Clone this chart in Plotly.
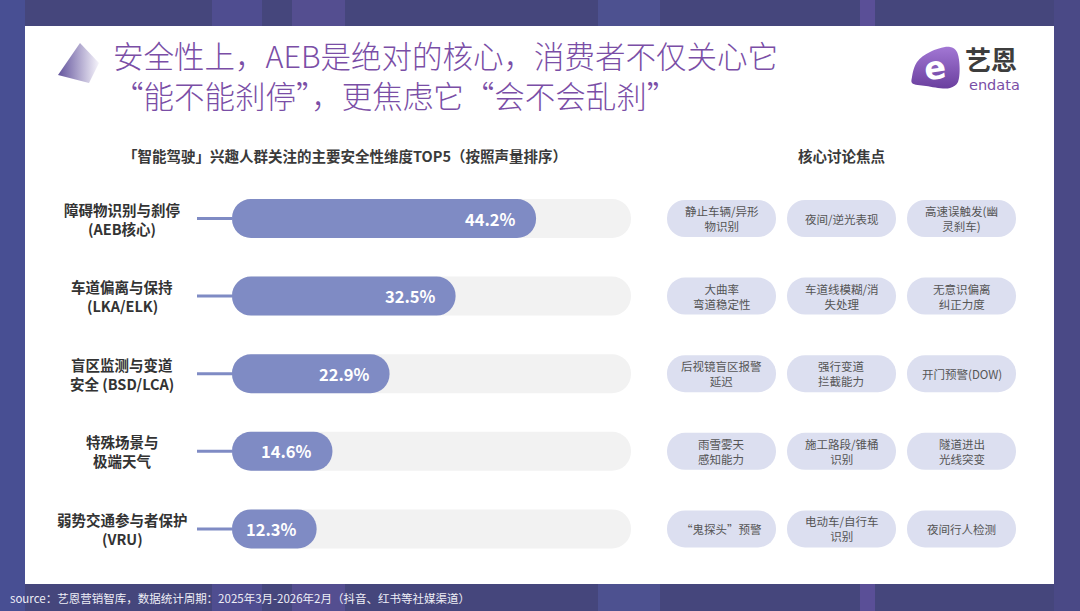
import plotly.graph_objects as go

W, H = 1080, 611
FONT = "Noto Sans CJK SC"

# ---------------- data ----------------
title_line1 = "安全性上，AEB是绝对的核心，消费者不仅关心它"
title_line2 = "“能不能刹停”，更焦虑它“会不会乱刹”"
subtitle_left = "「智能驾驶」兴趣人群关注的主要安全性维度TOP5（按照声量排序）"
subtitle_right = "核心讨论焦点"
source_note = "source：艺恩营销智库，数据统计周期：2025年3月-2026年2月（抖音、红书等社媒渠道）"

categories = [
    "障碍物识别与刹停<br>(AEB核心)",
    "车道偏离与保持<br>(LKA/ELK)",
    "盲区监测与变道<br>安全 (BSD/LCA)",
    "特殊场景与<br>极端天气",
    "弱势交通参与者保护<br>(VRU)",
]
shares = [44.2, 32.5, 22.9, 14.6, 12.3]

focus_row1 = ["静止车辆/异形<br>物识别", "夜间/逆光表现", "高速误触发(幽<br>灵刹车)"]
focus_row2 = ["大曲率<br>弯道稳定性", "车道线模糊/消<br>失处理", "无意识偏离<br>纠正力度"]
focus_row3 = ["后视镜盲区报警<br>延迟", "强行变道<br>拦截能力", "开门预警(DOW)"]
focus_row4 = ["雨雪雾天<br>感知能力", "施工路段/锥桶<br>识别", "隧道进出<br>光线突变"]
focus_row5 = ["“鬼探头”预警", "电动车/自行车<br>识别", "夜间行人检测"]
focus_points = [focus_row1, focus_row2, focus_row3, focus_row4, focus_row5]

# ---------------- styling ----------------
BAR_COLOR = "#7f8bc4"
TRACK_COLOR = "#f2f2f2"
TAG_COLOR = "#dcdff0"
TITLE_COLOR = "#7a4ea6"
TEXT_DARK = "#333333"
SCALE_MAX = 58


def px(x):
    return x / W


def py(y):
    return 1 - y / H


n = len(categories)
rows = list(range(n))
row_gap = 77.6
row_top = 218.5 - row_gap / 2
row_bot = 218.5 + row_gap * (n - 1) + row_gap / 2
BAR_T = 39 / row_gap
TAG_T = 37 / row_gap
units_per_px = SCALE_MAX / 399.0
stub_units = 35 * units_per_px

fig = go.Figure()

common = dict(orientation="h", hoverinfo="skip", showlegend=False)

# connector stubs
sx, sy = [], []
for r in rows:
    sx += [-stub_units, 0, None]
    sy += [r, r, None]
fig.add_trace(go.Scatter(x=sx, y=sy, mode="lines", line=dict(color=BAR_COLOR, width=3),
                         xaxis="x", yaxis="y", hoverinfo="skip", showlegend=False))

# track (background pills)
fig.add_trace(go.Bar(y=rows, base=[0] * n, x=[SCALE_MAX] * n, width=BAR_T,
                     marker=dict(color=TRACK_COLOR, cornerradius="50%", line=dict(width=0)),
                     xaxis="x", yaxis="y", **common))
# value pills
fig.add_trace(go.Bar(y=rows, base=[0] * n, x=shares, width=BAR_T,
                     marker=dict(color=BAR_COLOR, cornerradius="50%", line=dict(width=0)),
                     xaxis="x", yaxis="y", **common))

# focus tags
ty, tc = [], []
for r in rows:
    for c in range(len(focus_points[r])):
        ty.append(r)
        tc.append(c)
half = 54.5 / 120.0
fig.add_trace(go.Bar(y=ty, base=[c - half for c in tc], x=[2 * half] * len(tc), width=TAG_T,
                     marker=dict(color=TAG_COLOR, cornerradius="50%", line=dict(width=0)),
                     xaxis="x2", yaxis="y", **common))

# ---------------- decorations (pixel overlay axis) ----------------
fig.add_trace(go.Scatter(x=[80, 58, 89, 99, 80], y=[43, 75, 83, 63, 43], mode="lines",
                         fill="toself", line=dict(width=0),
                         fillgradient=dict(type="horizontal",
                                           colorscale=[[0, "#62539c"], [1, "#f6f4fb"]]),
                         xaxis="x3", yaxis="y3", hoverinfo="skip", showlegend=False))
fig.add_trace(go.Scatter(x=[912, 917, 930, 950, 957, 958, 950, 926, 912, 912],
                         y=[77, 62, 52, 47, 52, 82, 88, 86, 83, 77],
                         mode="lines", fill="toself", line=dict(width=0, shape="spline"),
                         fillgradient=dict(type="vertical",
                                           colorscale=[[0, "#6a3f9e"], [1, "#a277d4"]]),
                         xaxis="x3", yaxis="y3", hoverinfo="skip", showlegend=False))

annotations = []


def ann(text, x, y, size, color, xanchor="center", yanchor="middle", bold=False, family=FONT, **kw):
    t = f"<b>{text}</b>" if bold else text
    d = dict(text=t, x=x, y=y, xref="paper", yref="paper", showarrow=False,
             xanchor=xanchor, yanchor=yanchor, font=dict(size=size, color=color, family=family))
    d.update(kw)
    annotations.append(d)


# titles
ann(title_line1, px(111), py(55), 30.5, TITLE_COLOR, xanchor="left")
annotations[-1]["font"]["weight"] = 300
ann(title_line2, px(111), py(95), 30.5, TITLE_COLOR, xanchor="left")
annotations[-1]["font"]["weight"] = 300
ann(subtitle_left, px(345), py(155), 14.5, "#3a3a3a", bold=True)
ann(subtitle_right, px(842), py(155), 14.5, "#3a3a3a", bold=True)
ann(source_note, px(8), py(598), 11.5, "#eeeef6", xanchor="left")

# logo
ann("e", px(935), py(68), 32, "#ffffff", bold=True, family="DejaVu Sans", textangle=-8)
ann("艺恩", px(991), py(58), 26, "#3d3d3d", bold=True)
ann("endata", px(994), py(85), 14.5, TITLE_COLOR, family="DejaVu Sans")

# category labels (two lines each, centred)
for r, lab in enumerate(categories):
    parts = lab.split("<br>")
    k = len(parts)
    for i, p in enumerate(parts):
        annotations.append(dict(text=f"<b>{p}</b>", x=px(122), y=r, xref="paper", yref="y",
                                showarrow=False, xanchor="center", yanchor="middle",
                                yshift=(k - 1) * 9.5 - i * 19,
                                font=dict(size=14.5, color=TEXT_DARK, family=FONT)))

# value labels
for r, v in enumerate(shares):
    annotations.append(dict(text=f"<b>{v}%</b>", x=v, y=r, xref="x", yref="y", showarrow=False,
                            xanchor="right", yanchor="middle", xshift=-18,
                            font=dict(size=16.5, color="#ffffff", family=FONT)))

# tag labels
for r in rows:
    for c, txt in enumerate(focus_points[r]):
        annotations.append(dict(text=txt, x=c, y=r, xref="x2", yref="y", showarrow=False,
                                xanchor="center", yanchor="middle",
                                font=dict(size=11.5, color="#555555", family=FONT)))

shapes = []
# background streaks
for x0, x1, col, op in [(0, 25, "#4b57a6", 0.55), (212, 262, "#5b57a8", 0.45), (292, 345, "#6b5bb0", 0.4),
                        (598, 660, "#5d66b6", 0.35), (860, 875, "#7a5cc0", 0.4), (1054, 1080, "#4f4c90", 0.5)]:
    shapes.append(dict(type="rect", xref="paper", yref="paper", x0=px(x0), x1=px(x1), y0=0, y1=1,
                       fillcolor=col, opacity=op, line=dict(width=0), layer="below"))
# white card
shapes.append(dict(type="rect", xref="paper", yref="paper", x0=px(25), x1=px(1054), y0=py(584), y1=py(26),
                   fillcolor="#ffffff", line=dict(width=0), layer="below"))

fig.update_layout(
    width=W, height=H,
    margin=dict(l=0, r=0, t=0, b=0),
    paper_bgcolor="#45467c",
    plot_bgcolor="rgba(0,0,0,0)",
    barmode="overlay",
    showlegend=False,
    font=dict(family=FONT),
    xaxis=dict(domain=[px(197), px(631)], range=[-stub_units, SCALE_MAX], visible=False,
               fixedrange=True, anchor="y"),
    yaxis=dict(domain=[py(row_bot), py(row_top)], range=[n - 0.5, -0.5], visible=False,
               fixedrange=True, anchor="x"),
    xaxis2=dict(domain=[px(661.5), px(1021.5)], range=[-0.5, 2.5], visible=False,
                fixedrange=True, anchor="y"),
    xaxis3=dict(domain=[0, 1], range=[0, W], visible=False, fixedrange=True, anchor="y3"),
    yaxis3=dict(domain=[0, 1], range=[H, 0], visible=False, fixedrange=True, anchor="x3"),
    annotations=annotations,
    shapes=shapes,
)

fig.write_html("out.html", config={"displayModeBar": False},
               post_script="document.body.style.margin='0';document.body.style.overflow='hidden';")
